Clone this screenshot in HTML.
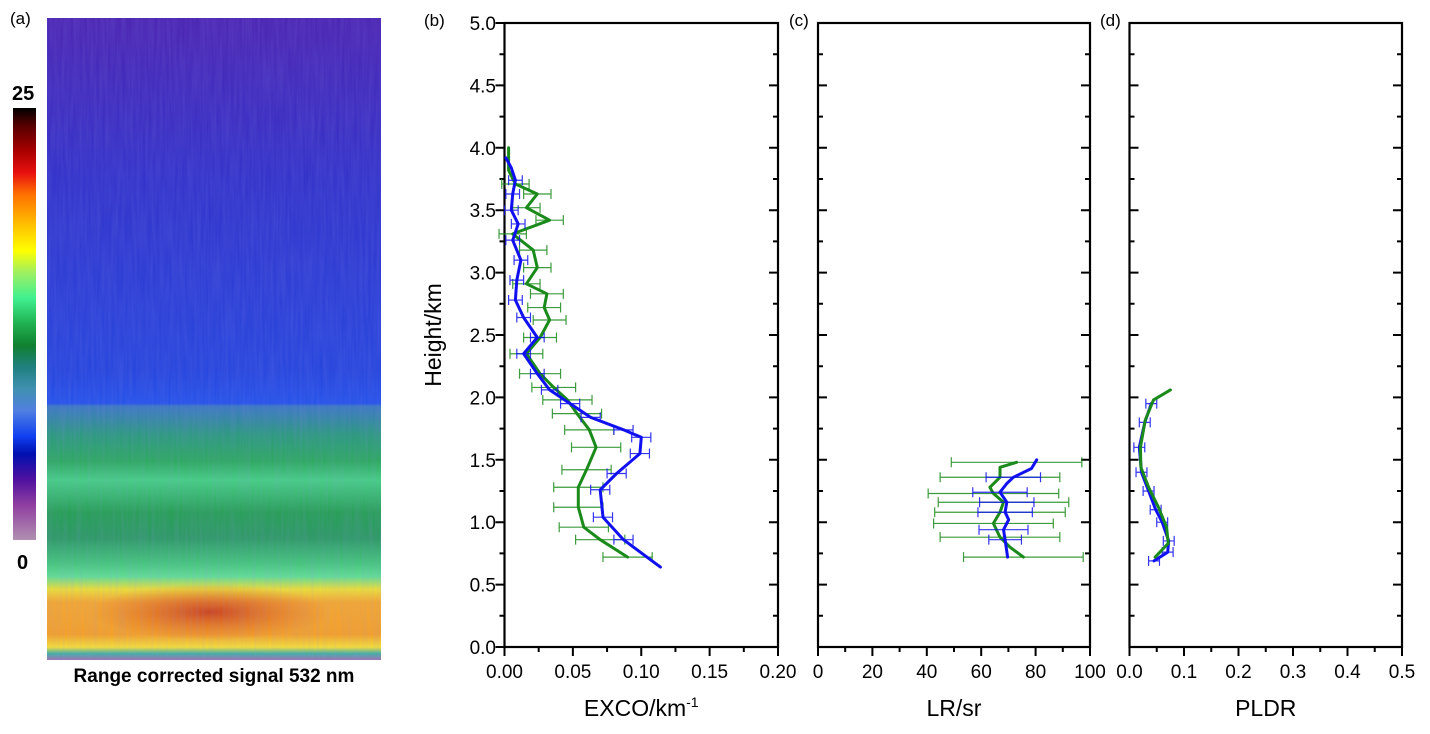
<!DOCTYPE html>
<html><head><meta charset="utf-8">
<style>
html,body{margin:0;padding:0;background:#fff;}
body{width:1430px;height:729px;overflow:hidden;font-family:"Liberation Sans",Arial,sans-serif;}
svg text{font-family:"Liberation Sans",Arial,sans-serif;}
</style></head>
<body>
<svg id="fig" width="1430" height="729" viewBox="0 0 1430 729" xmlns="http://www.w3.org/2000/svg">
<defs>
<linearGradient id="hm" x1="0" y1="0" x2="0" y2="1" gradientUnits="userSpaceOnUse" x1a="0">
</linearGradient>
<linearGradient id="hmg" gradientUnits="userSpaceOnUse" x1="0" y1="18" x2="0" y2="660">
<stop offset="0" stop-color="#4a22b0"/>
<stop offset="0.25" stop-color="#3030c8"/>
<stop offset="0.55" stop-color="#2444dc"/>
<stop offset="0.6" stop-color="#2250e8"/>
<stop offset="0.605" stop-color="#3a78c0"/>
<stop offset="0.65" stop-color="#2a9a7a"/>
<stop offset="0.69" stop-color="#2aaa5a"/>
<stop offset="0.72" stop-color="#44d080"/>
<stop offset="0.77" stop-color="#24a050"/>
<stop offset="0.81" stop-color="#2a9a60"/>
<stop offset="0.85" stop-color="#44c878"/>
<stop offset="0.87" stop-color="#60e090"/>
<stop offset="0.89" stop-color="#f0e030"/>
<stop offset="0.91" stop-color="#f8a828"/>
<stop offset="0.96" stop-color="#f8a020"/>
<stop offset="0.98" stop-color="#f8e030"/>
<stop offset="0.99" stop-color="#40b0a0"/>
<stop offset="1" stop-color="#a070b0"/>
</linearGradient>
<radialGradient id="hot" cx="0.5" cy="0.5" r="0.5">
<stop offset="0" stop-color="#c02010" stop-opacity="0.75"/>
<stop offset="1" stop-color="#e05010" stop-opacity="0"/>
</radialGradient>
<filter id="streak" x="0" y="0" width="100%" height="100%">
<feTurbulence type="fractalNoise" baseFrequency="0.35 0.02" numOctaves="2" seed="3"/>
<feColorMatrix type="matrix" values="0 0 0 0 0.3  0 0 0 0 0.3  0 0 0 0 0.9  0 0 0 0.35 0"/>
<feComposite in2="SourceGraphic" operator="in"/>
</filter>
<linearGradient id="cb" x1="0" y1="0" x2="0" y2="1">
<stop offset="0" stop-color="#000"/>
<stop offset="0.04" stop-color="#500"/>
<stop offset="0.1" stop-color="#a00"/>
<stop offset="0.15" stop-color="#e81010"/>
<stop offset="0.2" stop-color="#ff7000"/>
<stop offset="0.27" stop-color="#ffc000"/>
<stop offset="0.33" stop-color="#ffff00"/>
<stop offset="0.38" stop-color="#a0f060"/>
<stop offset="0.44" stop-color="#40f090"/>
<stop offset="0.5" stop-color="#20b050"/>
<stop offset="0.55" stop-color="#108030"/>
<stop offset="0.6" stop-color="#208080"/>
<stop offset="0.65" stop-color="#4090b0"/>
<stop offset="0.7" stop-color="#5080e0"/>
<stop offset="0.76" stop-color="#1040f0"/>
<stop offset="0.8" stop-color="#0010b0"/>
<stop offset="0.86" stop-color="#5010a0"/>
<stop offset="0.92" stop-color="#9040a0"/>
<stop offset="1" stop-color="#b090b0"/>
</linearGradient>
</defs>
<text x="10" y="24" font-size="17">(a)</text>
<text x="12" y="100" font-size="20" font-weight="bold">25</text>
<rect x="13" y="108" width="23" height="432" fill="url(#cb)"/>
<text x="17" y="569" font-size="20" font-weight="bold">0</text>
<g>
<rect x="47" y="18" width="334" height="642" fill="url(#hmg)"/>
<ellipse cx="210" cy="612" rx="120" ry="28" fill="url(#hot)"/>
<rect x="47" y="18" width="334" height="642" fill="#fff" filter="url(#streak)" opacity="0.6"/>
</g>
<text x="214" y="682" font-size="19" font-weight="bold" text-anchor="middle">Range corrected signal 532 nm</text>
<text x="424" y="26" font-size="17">(b)</text>
<text x="789" y="26" font-size="17">(c)</text>
<text x="1100" y="26" font-size="17">(d)</text>
<text transform="translate(441,335) rotate(-90)" font-size="23" text-anchor="middle">Height/km</text>
<g id="plots"></g>
</svg>
<script>
// Panel b: extinction coefficient (km^-1)
const exBlueH = [0.64,0.86,1.04,1.26,1.39,1.55,1.68,1.74,1.84,1.95,2.06,2.19,2.35,2.48,2.64,2.78,2.94,3.1,3.26,3.39,3.5,3.63,3.74,3.84,3.92];
const exBlueV = [0.114,0.087,0.072,0.070,0.082,0.099,0.100,0.087,0.063,0.048,0.033,0.024,0.014,0.024,0.014,0.008,0.009,0.012,0.006,0.010,0.005,0.006,0.008,0.005,0.001];
const exGreenH = [0.72,0.86,0.96,1.12,1.28,1.42,1.6,1.74,1.87,1.98,2.08,2.19,2.35,2.48,2.62,2.72,2.83,2.91,3.04,3.18,3.31,3.42,3.52,3.63,3.71,3.82,4.0];
const exGreenV = [0.090,0.070,0.058,0.054,0.054,0.060,0.067,0.062,0.053,0.046,0.036,0.026,0.016,0.026,0.033,0.029,0.031,0.016,0.024,0.021,0.006,0.033,0.016,0.024,0.008,0.003,0.003];
const exGreenErr = [0.018,0.018,0.018,0.018,0.018,0.018,0.018,0.018,0.018,0.018,0.016,0.015,0.012,0.012,0.012,0.012,0.012,0.010,0.010,0.010,0.010,0.010,0.010,0.010,0.010,0,0];
const exBlueErr = [0,0.007,0.007,0.007,0.007,0.007,0.007,0.007,0.007,0.007,0.006,0.005,0.005,0.005,0.005,0.005,0.005,0.005,0.005,0.005,0.005,0.005,0.005,0,0];
// Panel c: lidar ratio (sr)
const lrBlueH = [1.50,1.43,1.36,1.31,1.24,1.16,1.08,1.02,0.94,0.86,0.72];
const lrBlueV = [80.4,78.5,71.8,69.4,66.9,69.4,68.8,70.1,68.2,68.8,69.7];
const lrBlueErr = [0,0,10,0,10,10,10,0,9,6,0];
const lrGreenH = [1.48,1.44,1.36,1.28,1.23,1.16,1.08,0.99,0.88,0.80,0.72];
const lrGreenV = [73,66.9,66.9,63.2,64.5,68.2,66.9,64.5,66.9,70.6,75.5];
const lrGreenErr = [24,0,22,0,24,24,24,22,22,0,22];
// Panel d: particle linear depolarization ratio
const pdGreenH = [2.06,1.98,1.82,1.6,1.44,1.28,1.12,0.96,0.83,0.72];
const pdGreenV = [0.075,0.044,0.029,0.020,0.021,0.035,0.053,0.068,0.071,0.047];
const pdBlueH = [1.95,1.80,1.60,1.40,1.25,1.10,1.00,0.85,0.76,0.69];
const pdBlueV = [0.040,0.028,0.018,0.022,0.035,0.048,0.060,0.072,0.070,0.045];
const pdBlueErr = [0.01,0.01,0.01,0.01,0.01,0.01,0.01,0.01,0.01,0.01];
const yTicks = ["0.0","0.5","1.0","1.5","2.0","2.5","3.0","3.5","4.0","4.5","5.0"];
const xTicksB = ["0.00","0.05","0.10","0.15","0.20"];
const xTicksC = ["0","20","40","60","80","100"];
const xTicksD = ["0.0","0.1","0.2","0.3","0.4","0.5"];

const NS="http://www.w3.org/2000/svg";
const root=document.getElementById('plots');
const Y0=647, Y1=23;
function y(h){return Y0-(h/5)*(Y0-Y1);}
function mk(tag,attrs,parent){const e=document.createElementNS(NS,tag);for(const k in attrs)e.setAttribute(k,attrs[k]);(parent||root).appendChild(e);return e;}

function panel(name,x0,x1,xmax,ticks,minorStep,title,leftOut){
  const g=mk('g',{});
  
  
  const fx=v=>x0+(v/xmax)*(x1-x0);
  const frame=mk('rect',{x:x0,y:Y1,width:x1-x0,height:Y0-Y1,fill:'none',stroke:'#000','stroke-width':2.2},g);
  
  
  let d='';
  for(let i=0;i<=20;i++){const yy=y(i*0.25);const L=i%2===0?9:5;
    if(leftOut) d+=`M${x0},${yy}h${-L}`; else d+=`M${x0},${yy}h${L}`;
    d+=`M${x1},${yy}h${-L}`;}
  const n=Math.round(xmax/minorStep);
  for(let i=0;i<=n;i++){const xx=fx(i*minorStep);d+=`M${xx},${Y0}v${i%2===0?9:5}`;}
  const tk=mk('path',{d:d,stroke:'#000','stroke-width':2,fill:'none'},g);
  
  
  ticks.forEach((t,i)=>{const tx=mk('text',{x:fx(i*xmax/(ticks.length-1)),y:Y0+31,'font-size':19,'text-anchor':'middle'},g);tx.textContent=t;
    
    });
  const tt=mk('text',{x:(x0+x1)/2,y:716,'font-size':23,'text-anchor':'middle'},g);
  tt.innerHTML=title;
  
  
  return {g,fx};
}
function series(p,name,H,V,E,color,w){
  const pts=H.map((h,i)=>`${p.fx(V[i]).toFixed(1)},${y(h).toFixed(1)}`).join(' ');
  if(E){let d='';H.forEach((h,i)=>{if(!E[i])return;const a=p.fx(V[i]-E[i]),b=p.fx(V[i]+E[i]),yy=y(h);
    d+=`M${a},${yy}H${b}M${a},${yy-5}v10M${b},${yy-5}v10`;});
    const eb=mk('path',{d:d,stroke:color,'stroke-width':1.2,fill:'none',opacity:0.85},p.g);
    
    }
  const l=mk('polyline',{points:pts,fill:'none',stroke:color,'stroke-width':w,'stroke-linejoin':'round','stroke-linecap':'round'},p.g);
  
  
}
const pb=panel('panel-b-extinction',504.5,778,0.2,xTicksB,0.025,'EXCO/km<tspan dy="-9" font-size="14">-1</tspan>',true);
yTicks.forEach((t,i)=>{const tx=mk('text',{x:496,y:y(i*0.5)+7,'font-size':19,'text-anchor':'end'});tx.textContent=t;
  
  });
series(pb,'extinction-green',exGreenH,exGreenV,exGreenErr,'#1a8a1a',3);
series(pb,'extinction-blue',exBlueH,exBlueV,exBlueErr,'#1010f0',3);
const pc=panel('panel-c-lidar-ratio',818,1090,100,xTicksC,10,'LR/sr',false);
series(pc,'lidar-ratio-green',lrGreenH,lrGreenV,lrGreenErr,'#1a8a1a',3);
series(pc,'lidar-ratio-blue',lrBlueH,lrBlueV,lrBlueErr,'#1010f0',3);
const pd=panel('panel-d-depolarization',1129.5,1402,0.5,xTicksD,0.05,'PLDR',false);
series(pd,'pldr-blue',pdBlueH,pdBlueV,pdBlueErr,'#1010f0',3);
series(pd,'pldr-green',pdGreenH,pdGreenV,null,'#1a8a1a',3);
</script>
</body></html>
